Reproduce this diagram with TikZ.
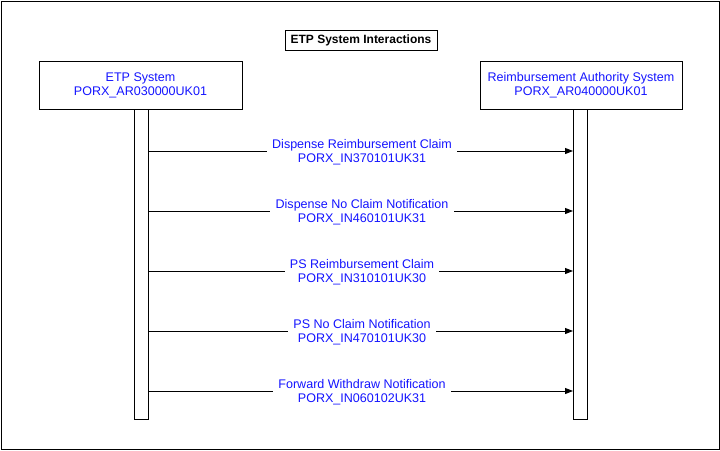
\documentclass[tikz,border=0pt]{standalone}
\usepackage{fontspec}
\setmainfont{Liberation Sans}
\usetikzlibrary{arrows.meta}
\definecolor{msgblue}{RGB}{20,20,255}
\tikzset{
  sysbox/.style={draw,line width=0.75pt,minimum width=#1*0.75pt,minimum height=36pt,
    align=center,text=msgblue,font=\fontsize{9.4}{10.5}\selectfont,inner sep=0pt},
  lifebar/.style={draw,line width=0.75pt,minimum width=10.5pt,minimum height=233pt,inner sep=0pt},
  msg/.style={line width=0.75pt,-{Triangle[length=6pt,width=4.5pt]}},
  msglabel/.style={fill=white,text=msgblue,align=center,inner xsep=4pt,inner ysep=1pt,
    font=\fontsize{9.4}{10.5}\selectfont}
}
\begin{document}
\begin{tikzpicture}[x=0.75pt,y=-0.75pt]
    \useasboundingbox (0,0) rectangle (720,450);
    \draw[line width=0.75pt] (1,1) rectangle (719,449);
    \node[draw,line width=0.75pt,minimum width=114pt,minimum height=15pt,inner sep=0pt,
      font=\bfseries\fontsize{9}{10.5}\selectfont] (title) at (361,40) {ETP System Interactions};
    \node[sysbox=203] (etp) at (140.5,85) {ETP System\\PORX\_AR030000UK01};
    \node[sysbox=202] (auth) at (581,85) {Reimbursement Authority System\\PORX\_AR040000UK01};
    \node[lifebar] (barA) at (141,264.5) {};
    \node[lifebar] (barB) at (580.5,264.5) {};
    \foreach \y/\top/\bot [count=\i] in {
        151/Dispense Reimbursement Claim/PORX\_IN370101UK31,
        211/Dispense No Claim Notification/PORX\_IN460101UK31,
        271/PS Reimbursement Claim/PORX\_IN310101UK30,
        331/PS No Claim Notification/PORX\_IN470101UK30,
        391/Forward Withdraw Notification/PORX\_IN060102UK31}{
      \coordinate (m\i) at (0,\y);
      \draw[msg] (barA.east |- m\i) -- (barB.west |- m\i)
        node[msglabel,pos=0.503,yshift=-0.75pt] (lab\i) {\top\\\bot};
    }
\end{tikzpicture}
\end{document}
